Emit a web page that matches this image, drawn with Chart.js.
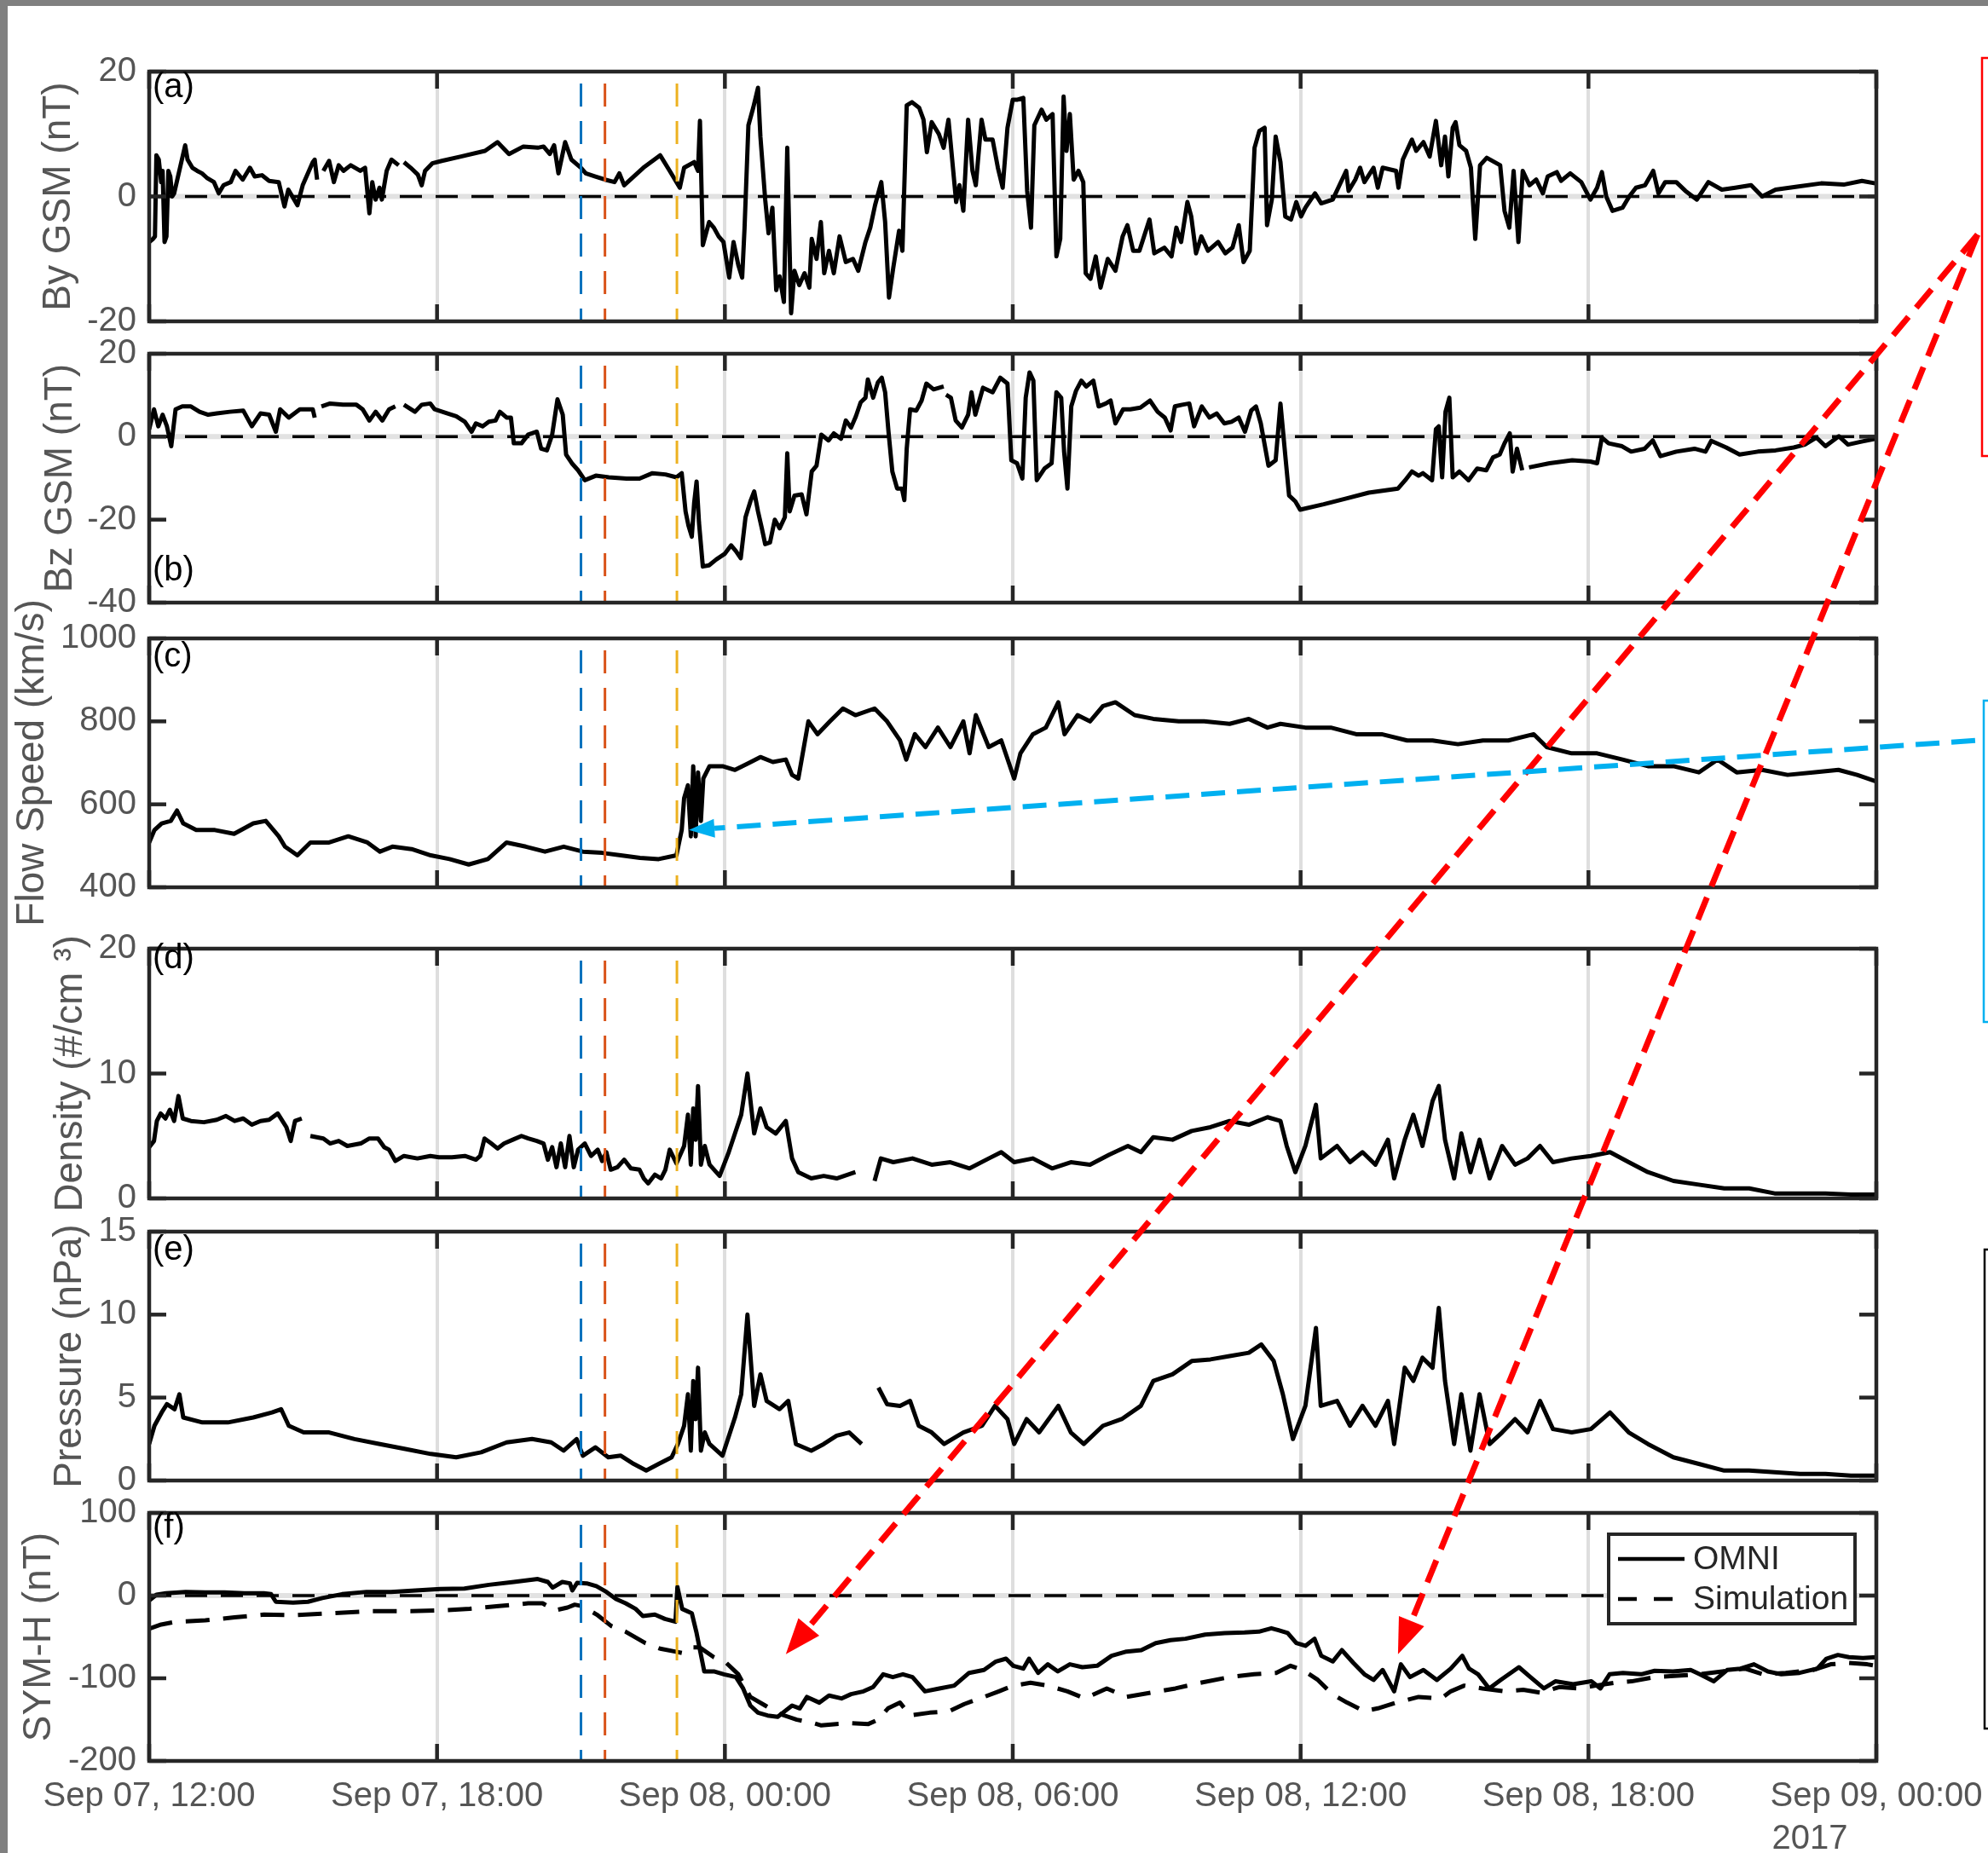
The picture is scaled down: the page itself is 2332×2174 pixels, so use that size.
<!DOCTYPE html>
<html>
<head>
<meta charset="utf-8">
<script src="https://cdn.jsdelivr.net/npm/chart.js@4.4.0/dist/chart.umd.min.js"></script>
<style>
  body { margin: 0; background: #fff; }
  #page { position: relative; width: 2332px; height: 2174px; overflow: hidden; background: #fff; }
  #page canvas { position: absolute; left: 0; }
</style>
</head>
<body>
<div id="page"></div>
<script>
// time axis: hours after Sep 07 12:00 UT
const xTickLabels = ['Sep 07, 12:00', 'Sep 07, 18:00', 'Sep 08, 00:00', 'Sep 08, 06:00',
                     'Sep 08, 12:00', 'Sep 08, 18:00', 'Sep 09, 00:00'];
const yearLabel = '2017';
const eventTimes = [9, 9.5, 11];

// (a) By GSM (nT)
const byTime = [0,0.08,0.12,0.15,0.2,0.25,0.28,0.32,0.36,0.4,0.44,0.48,0.52,0.75,0.8,0.9,1,1.1,1.2,1.35,1.45,1.55,1.7,1.8,1.95,2.1,2.2,2.35,2.5,2.7,2.82,2.9,3.09,3.2,3.41,3.45,3.5,3.52,3.63,3.75,3.85,3.95,4.05,4.2,4.4,4.5,4.59,4.65,4.72,4.8,4.85,4.95,5.05,5.2,5.25,5.31,5.45,5.6,5.68,5.75,5.9,6.1,6.5,7,7.26,7.5,7.8,8.1,8.22,8.35,8.44,8.53,8.67,8.8,9,9.1,9.3,9.5,9.7,9.8,9.9,10.1,10.3,10.65,10.85,11.06,11.15,11.36,11.44,11.48,11.54,11.67,11.77,11.87,11.97,12.09,12.18,12.28,12.36,12.41,12.49,12.59,12.69,12.74,12.84,12.91,12.99,13.07,13.14,13.23,13.3,13.38,13.45,13.55,13.66,13.76,13.81,13.91,14,14.07,14.17,14.27,14.39,14.52,14.67,14.78,14.93,15.03,15.13,15.26,15.34,15.42,15.51,15.63,15.7,15.79,15.9,16.05,16.14,16.21,16.31,16.46,16.56,16.66,16.82,16.89,16.97,17.07,17.16,17.23,17.35,17.43,17.58,17.69,17.79,17.89,18,18.1,18.22,18.3,18.38,18.45,18.6,18.7,18.83,18.91,18.99,19.06,19.12,19.19,19.27,19.37,19.47,19.52,19.62,19.73,19.83,19.98,20.14,20.29,20.39,20.51,20.64,20.85,20.95,21.16,21.31,21.41,21.51,21.64,21.72,21.82,21.93,22.07,22.28,22.43,22.58,22.71,22.81,22.94,23.04,23.14,23.25,23.3,23.4,23.48,23.58,23.68,23.8,23.91,24.01,24.1,24.3,24.43,24.67,24.81,24.95,25,25.14,25.24,25.33,25.52,25.61,25.71,25.99,26.04,26.13,26.32,26.41,26.56,26.69,26.82,26.93,27.01,27.08,27.17,27.23,27.31,27.45,27.55,27.64,27.74,27.88,28.16,28.25,28.35,28.44,28.54,28.63,28.77,28.91,29.05,29.15,29.34,29.43,29.62,29.85,30.04,30.18,30.28,30.37,30.5,30.71,30.85,30.99,31.18,31.35,31.46,31.6,31.83,32.02,32.26,32.5,32.78,33.06,33.39,33.62,33.9,34.38,34.85,35.32,35.7,35.98];
const byGsm = [-7.3,-6.8,-6.4,6.6,5.9,2.3,4.1,-7.3,-6.4,4.1,3.2,0,0.5,8.2,5.9,4.6,4.1,3.7,3,2.3,0.5,1.8,2.3,4.1,2.7,4.6,3.2,3.4,2.5,2.3,-1.6,1.1,-1.4,1.8,5.5,5.9,2.7,null,4.1,5.7,2.3,5,4.1,5,4.1,4.6,-2.7,2.3,-0.5,1.4,-0.5,4.1,5.9,5,null,5.5,4.6,3.5,1.8,4.1,5.3,5.7,6.4,7.3,8.7,6.8,8,7.8,8,6.8,8.2,3.7,8.7,5.9,4.6,3.7,3.2,2.7,2.3,3.7,1.8,3.2,4.6,6.6,4.1,1.4,4.6,5.5,4.1,12.1,-7.8,-4.1,-5,-6.4,-7.3,-13,-7.3,-11,-13,-5,11.4,14.2,17.4,9.6,-0.5,-5.9,-1.8,-15,-12.8,-16.9,7.8,-18.7,-11.9,-14.2,-12.3,-14.6,-6.8,-10,-4.1,-12.3,-8.7,-12.3,-6.4,-10.5,-10,-11.9,-7.3,-5,-1.4,2.3,-4.1,-16.2,-11.4,-5.5,-8.7,14.6,15.1,14.2,12.3,7.1,11.9,10,7.8,12.3,-0.9,1.8,-2.3,12.3,4.1,1.8,12.3,9.1,9.1,4.6,1.4,11,15.5,15.5,15.8,0.9,-5,11.4,13.9,12.3,13.2,-9.6,-6.8,16,7.3,13.2,2.7,4.1,2.3,-12.3,-13.2,-9.6,-14.6,-10,-11.9,-6.4,-4.6,-8.7,-8.7,-3.7,-9.1,-8.2,-9.6,-5,-7.3,-0.9,-3.2,-9.1,-6.4,-8.7,-7.3,-9.1,-8.2,-4.6,-10.5,-8.7,7.8,10.5,11,-4.6,-0.5,9.6,5.5,-3.2,-3.7,-0.9,-3.2,-1.8,0.5,-1.1,-0.5,1.8,4.1,0.9,2.7,4.6,2.3,4.6,1.4,4.6,4.1,1.4,5.9,9.1,7.3,8.7,6.4,12.1,5,9.6,3.2,11,11.9,8.2,7.3,4.6,-6.8,5,6.2,5,-2.3,-5,4.1,-7.3,4.1,1.8,2.7,0.5,3.2,3.9,2.5,3.7,2.3,-0.5,1.4,3.9,0,-2.3,-1.8,0,1.4,1.8,4.1,0.5,2.3,2.3,0.9,-0.5,2.3,1.1,1.4,1.8,0,1.1,1.6,2.1,1.9,2.5,2.1];

// (b) Bz GSM (nT)
const bzTime = [0,0.1,0.19,0.28,0.37,0.46,0.55,0.69,0.87,1.05,1.23,1.41,1.68,1.96,2.14,2.32,2.5,2.64,2.73,2.91,3.14,3.41,3.45,3.52,3.59,3.77,4.04,4.32,4.45,4.59,4.72,4.86,5,5.13,5.22,5.31,5.54,5.68,5.86,5.95,6.22,6.4,6.58,6.72,6.81,6.95,7.08,7.22,7.31,7.45,7.54,7.6,7.76,7.9,8.08,8.17,8.29,8.4,8.51,8.62,8.69,8.81,8.94,9.08,9.31,9.58,9.95,10.22,10.49,10.76,10.99,11.1,11.18,11.24,11.31,11.36,11.41,11.46,11.54,11.67,11.82,12,12.13,12.23,12.33,12.43,12.54,12.61,12.69,12.77,12.84,12.94,13.04,13.14,13.25,13.3,13.35,13.45,13.6,13.7,13.81,13.91,14.01,14.16,14.27,14.42,14.52,14.63,14.73,14.83,14.93,14.98,15.09,15.19,15.27,15.34,15.41,15.49,15.59,15.69,15.74,15.79,15.86,15.99,16.1,16.2,16.35,16.56,16.58,16.61,16.71,16.81,16.94,17.07,17.14,17.22,17.38,17.58,17.74,17.89,17.97,18.09,18.2,18.27,18.35,18.43,18.5,18.66,18.81,18.91,19.01,19.07,19.14,19.22,19.32,19.43,19.53,19.68,19.79,19.94,20.04,20.14,20.3,20.45,20.66,20.86,21.02,21.17,21.29,21.38,21.53,21.68,21.78,21.94,22.1,22.25,22.41,22.56,22.71,22.84,22.97,23.07,23.17,23.33,23.48,23.58,23.69,23.76,23.89,23.99,24.48,24.95,25.42,26.03,26.18,26.32,26.46,26.55,26.74,26.82,26.88,26.95,27.02,27.1,27.17,27.31,27.5,27.68,27.87,28.01,28.15,28.25,28.36,28.42,28.51,28.62,28.69,28.76,29.19,29.66,30.04,30.18,30.28,30.42,30.7,30.89,31.17,31.34,31.5,31.83,32.21,32.44,32.56,32.87,33.15,33.53,33.9,34.28,34.51,34.75,34.94,35.22,35.41,35.69,35.98];
const bzGsm = [1.8,6.6,2.5,5.3,2.5,-2.3,6.6,7.3,7.3,6,5.3,5.6,6,6.3,2.5,5.6,5.3,1.2,6.6,4.6,6.6,6.6,4.6,null,7.3,8,7.7,7.7,6.6,3.9,6,3.9,6.6,7.3,null,7.7,6,7.7,8,6.6,5.6,4.9,3.6,1.2,3.2,2.5,3.6,3.9,6,4.6,4.6,-1.6,-1.6,0.5,1.2,-2.9,-3.3,0.5,9,5.3,-4.3,-6.4,-8.1,-10.5,-9.4,-9.8,-10.1,-10.1,-8.8,-9.1,-9.8,-8.8,-18,-21.4,-24.1,-15.9,-10.8,-20.7,-31.3,-31,-29.6,-28.2,-26.2,-27.6,-29.3,-19.4,-15.3,-13.2,-18,-22.1,-25.9,-25.5,-20,-22.1,-19.4,-4,-18,-14.2,-13.9,-18.7,-8.4,-7,0.5,-0.9,0.8,-0.5,3.9,2.2,4.9,8.3,9.4,13.8,9.4,13.1,14.2,10.7,1.2,-8.4,-12.5,-12.5,-15.3,-2.9,6.6,6.3,8.7,12.8,11.4,12.1,null,10.1,9.4,3.9,2.2,5.3,10.7,5.3,11.8,10.7,14.2,12.8,-5.7,-6.4,-10.1,9.4,15.5,13.5,-10.5,-7.7,-6.4,10.7,9.4,-3.6,-12.5,7.3,11.1,13.5,12.1,13.5,7.3,8,8.7,3.2,6.6,6.6,7,8.7,6,4.6,1.5,7.3,7.7,8,2.5,7.3,4.6,5.6,3.2,3.6,4.6,1.2,6.3,7.3,3.2,-7,-5.7,8,-5.7,-14.2,-15.6,-17.6,-16.3,-14.9,-13.5,-12.5,-10.5,-8.4,-9.4,-8.8,-10.5,1.8,2.5,-9.8,6,9.4,-9.8,-8.4,-10.5,-7.7,-8.1,-5,-4.3,-1.6,0.8,-8.4,-2.9,-8.1,null,-7.4,-6.4,-5.7,-6,-6.4,-0.2,-1.6,-2.3,-3.6,-2.9,-0.9,-4.7,-3.6,-2.9,-3.6,-1,-2.6,-4.3,-3.6,-3.3,-2.6,-1.9,-0.2,-2.3,0.1,-1.9,-1.2,-0.5];

// (c) Flow speed (km/s)
const speedTime = [0,0.11,0.26,0.45,0.58,0.71,0.98,1.37,1.77,2.17,2.43,2.7,2.83,3.09,3.36,3.75,4.15,4.55,4.81,5.07,5.47,5.87,6.26,6.66,7.06,7.45,7.85,8.25,8.64,9.04,9.44,9.83,10.23,10.62,10.99,11.1,11.15,11.23,11.29,11.34,11.39,11.44,11.5,11.55,11.68,11.95,12.21,12.47,12.74,13,13.27,13.4,13.53,13.74,13.93,14.19,14.46,14.72,15.12,15.38,15.65,15.78,15.96,16.18,16.44,16.7,16.97,17.1,17.23,17.5,17.76,18.03,18.16,18.42,18.69,18.95,19.08,19.35,19.61,19.88,20.14,20.54,20.93,21.46,21.99,22.52,22.92,23.31,23.58,24.1,24.63,25.16,25.69,26.22,26.75,27.28,27.8,28.33,28.86,29.13,29.65,30.18,30.71,31.24,31.77,32.3,32.69,33.09,33.62,34.15,34.68,35.21,35.6,36];
const flowSpeed = [508,538,554,560,585,554,538,538,529,554,560,523,498,477,508,508,523,508,486,498,492,477,468,455,468,508,498,486,498,486,483,477,471,468,477,538,615,646,523,692,523,677,560,662,692,692,683,698,714,702,708,671,662,800,769,800,831,815,831,800,754,708,769,738,785,738,800,723,815,738,754,662,723,769,785,846,769,815,800,837,846,815,806,800,800,794,806,785,794,785,785,769,769,754,754,745,754,754,769,738,723,723,708,692,692,677,708,677,683,671,677,683,671,655];

// (d) Density (#/cm^3)
const densTime = [0,0.1,0.16,0.24,0.34,0.43,0.52,0.61,0.7,0.87,1.14,1.41,1.6,1.78,1.96,2.14,2.32,2.5,2.68,2.86,2.95,3.04,3.18,3.27,3.36,3.63,3.77,3.95,4.13,4.41,4.59,4.77,4.9,5,5.13,5.31,5.59,5.86,6.04,6.31,6.58,6.81,6.9,6.99,7.13,7.26,7.4,7.58,7.76,7.9,8.08,8.22,8.31,8.4,8.49,8.58,8.67,8.76,8.85,8.94,9.08,9.21,9.35,9.44,9.53,9.62,9.76,9.9,10.04,10.22,10.31,10.4,10.54,10.67,10.76,10.85,10.99,11.15,11.23,11.29,11.34,11.39,11.44,11.5,11.58,11.68,11.89,12.08,12.21,12.34,12.47,12.61,12.74,12.87,13.06,13.27,13.4,13.53,13.8,14.06,14.33,14.72,14.9,15.12,15.25,15.51,15.91,16.31,16.7,17.1,17.5,17.76,18.03,18.42,18.82,19.21,19.61,20.01,20.4,20.67,20.93,21.33,21.73,22.12,22.52,22.92,23.31,23.58,23.71,23.89,24.1,24.32,24.42,24.76,25.03,25.29,25.56,25.82,25.95,26.17,26.35,26.54,26.75,26.88,27.01,27.2,27.35,27.54,27.73,27.94,28.2,28.47,28.73,28.99,29.26,29.65,30.05,30.45,30.84,31.24,31.77,32.3,32.83,33.35,33.88,34.41,34.94,35.47,36];
const density = [4.1,4.6,6.2,6.8,6.4,7.1,6.2,8.2,6.4,6.2,6.1,6.3,6.6,6.2,6.4,5.9,6.2,6.3,6.8,5.7,4.6,6.2,6.4,null,5,4.8,4.4,4.6,4.2,4.4,4.8,4.8,4.1,3.9,3,3.4,3.2,3.4,3.3,3.3,3.4,3.1,3.4,4.8,4.4,4,4.4,4.7,5,4.8,4.6,4.4,3.1,4.1,2.5,4.4,2.5,5,2.5,3.9,4.4,3.4,3.9,3,3.7,2.3,2.5,3.1,2.4,2.3,1.6,1.2,1.9,1.6,2.3,3.9,2.8,4.2,6.7,2.7,7.2,4.7,9,2.7,4.2,2.7,1.8,3.7,5.2,6.7,10,5.2,7.2,5.7,5.2,6.2,3.2,2.1,1.6,1.8,1.6,2.1,null,1.4,3.2,2.9,3.2,2.7,2.9,2.4,3.2,3.7,2.9,3.2,2.4,2.9,2.7,3.5,4.2,3.7,4.9,4.7,5.4,5.7,6.2,5.9,6.5,6.2,4.2,2.1,4.2,7.5,3.2,4.2,2.9,3.7,2.7,4.7,1.6,4.7,6.7,4.2,7.8,9,4.7,1.6,5.2,2.1,4.7,1.6,4.2,2.7,3.2,4.2,2.9,3.2,3.4,3.7,2.9,2.1,1.4,1.1,0.8,0.8,0.4,0.4,0.4,0.3,0.3];

// (e) Pressure (nPa)
const presTime = [0,0.11,0.26,0.37,0.53,0.63,0.71,1.11,1.64,2.17,2.56,2.75,2.91,3.22,3.75,4.28,4.81,5.34,5.87,6.4,6.92,7.45,7.98,8.38,8.64,8.91,9.04,9.3,9.57,9.83,10.1,10.36,10.62,10.89,11.02,11.15,11.23,11.29,11.34,11.39,11.44,11.5,11.58,11.68,11.95,12.21,12.34,12.47,12.61,12.74,12.87,13.14,13.32,13.48,13.8,14.06,14.33,14.59,14.85,14.95,15.2,15.38,15.65,15.86,16.04,16.31,16.57,16.97,17.36,17.63,17.89,18.03,18.29,18.55,18.95,19.21,19.48,19.88,20.27,20.67,20.93,21.33,21.73,22.12,22.52,22.92,23.18,23.44,23.63,23.84,24.1,24.32,24.42,24.76,25.03,25.29,25.56,25.82,25.95,26.17,26.35,26.54,26.75,26.88,27.01,27.2,27.35,27.54,27.73,27.94,28.2,28.47,28.73,28.99,29.26,29.65,30.05,30.45,30.84,31.24,31.77,32.3,32.83,33.35,33.88,34.41,34.94,35.47,36];
const pressure = [2.2,3.3,4.1,4.6,4.3,5.2,3.8,3.5,3.5,3.8,4.1,4.3,3.3,2.9,2.9,2.5,2.2,1.9,1.6,1.4,1.7,2.3,2.5,2.3,1.8,2.5,1.5,2,1.4,1.5,1,0.6,1,1.4,2.2,3.3,5.2,1.8,6,3.7,6.8,1.8,2.9,2.2,1.5,3.8,5.2,10,4.5,6.4,4.8,4.3,4.8,2.2,1.8,2.2,2.7,2.9,2.2,null,5.6,4.6,4.5,4.8,3.3,2.9,2.2,2.9,3.3,4.5,3.7,2.2,3.7,2.9,4.5,2.9,2.2,3.3,3.7,4.5,6,6.4,7.2,7.3,7.5,7.7,8.2,7.2,5.2,2.5,4.5,9.2,4.5,4.8,3.3,4.5,3.3,4.8,2.2,6.8,6,7.4,6.8,10.4,6,2.2,5.2,1.8,5.2,2.2,2.9,3.7,2.9,4.8,3.1,2.9,3.1,4.1,2.9,2.2,1.4,1,0.6,0.6,0.5,0.4,0.4,0.3,0.3];

// (f) SYM-H (nT): OMNI and simulation
const symTime = [0,0.15,0.35,0.76,1.17,1.57,1.98,2.39,2.54,2.64,3,3.31,3.61,4.02,4.53,5.04,5.55,6.07,6.57,7.08,7.6,8.1,8.31,8.41,8.61,8.77,8.82,8.92,9.12,9.32,9.53,9.73,9.93,10.14,10.29,10.54,10.75,10.97,11.01,11.11,11.31,11.41,11.57,11.77,11.98,12.23,12.38,12.53,12.69,12.89,13.1,13.25,13.4,13.56,13.71,13.97,14.17,14.43,14.63,14.89,15.09,15.3,15.5,15.71,15.91,16.17,16.47,16.78,17.09,17.4,17.65,17.86,18.01,18.22,18.34,18.53,18.73,18.94,19.19,19.45,19.76,20.06,20.37,20.68,20.98,21.29,21.6,22.01,22.42,22.83,23.13,23.39,23.54,23.73,23.91,24.1,24.29,24.43,24.67,24.86,25.1,25.33,25.52,25.71,25.95,26.09,26.28,26.56,26.84,27.13,27.37,27.51,27.7,27.93,28.17,28.55,28.79,29.07,29.31,29.68,30.06,30.25,30.44,30.72,31.1,31.38,31.76,32.13,32.32,32.61,32.89,33.17,33.45,33.74,34.02,34.4,34.77,34.96,35.2,35.43,35.72,36];
const symhOmni = [-6,1,2.8,4.5,3.8,3.8,2.8,2.8,1.7,-7.5,-8.6,-7.5,-3,1.7,4.5,4.5,6.2,7.9,8.6,13,16.5,20,16.5,9.6,16.5,14.8,6.2,15.5,14.8,11.4,4.5,-4.1,-9.3,-16.1,-24.7,-23,-28.2,-31.6,10.5,-16.1,-21.3,-45.3,-91.7,-91.7,-95.2,-98.6,-112.3,-133,-141.6,-145,-146.7,-139.8,-133,-136.4,-122.6,-129.5,-120.9,-124.4,-119.2,-115.8,-110.6,-95.2,-98.6,-95.2,-98.6,-115.8,-112.3,-108.9,-93.5,-90,-79.7,-76.3,-84.9,-88.3,-76.3,-93.5,-83.1,-91.7,-83.1,-86.6,-84.9,-72.8,-67.7,-66,-57.4,-53.9,-52.2,-47.1,-45.3,-44.7,-43.6,-39.5,-41.9,-45.3,-57.4,-60.8,-52.2,-72.8,-79.7,-66,-81.4,-95.2,-102,-90,-115.8,-83.1,-98.6,-90,-102,-88.3,-72.8,-88.3,-95.2,-112.3,-102,-86.6,-98.6,-112.3,-103.7,-107.2,-103.7,-112.3,-95.2,-93.5,-95.2,-91,-91.7,-90,-95.2,-103.7,-90,-88.3,-83.1,-91.7,-95.2,-93.5,-88.3,-76.3,-71.8,-74.5,-75.6,-74.5];
const simTime = [0,0.25,0.56,1.17,1.78,2.39,3,3.82,4.64,5.45,6.07,6.68,7.29,7.9,8.2,8.46,8.72,8.87,9.02,9.33,9.63,9.93,10.34,10.65,10.96,11.11,11.26,11.47,11.77,12.03,12.28,12.53,12.84,13.15,13.5,13.81,14.01,14.32,14.63,14.99,15.19,15.4,15.65,15.86,16.27,16.68,16.99,17.4,17.71,18.01,18.37,18.73,19.14,19.5,19.96,20.37,20.88,21.39,21.9,22.52,23.03,23.49,23.79,24.05,24.36,24.66,24.97,25.33,25.61,25.99,26.46,26.93,27.13,27.41,27.79,28.26,28.64,29.01,29.39,29.77,30.15,30.53,30.9,31.38,31.85,32.32,32.79,33.26,33.64,34.11,34.68,35.05,35.43,35.81,36];
const symhSim = [-40,-35,-31.6,-30,-26.4,-23,-23.7,-21.3,-18.9,-18.9,-17.9,-16,-12.7,-9.3,-9.3,-17.9,-14.4,-11,-12.7,-23,-36.7,-43.6,-57.4,-64.2,-67.7,-69.4,-62.5,-62.5,-74.5,-81.4,-95.2,-122.6,-133,-143.3,-150.1,-153.6,-157,-155.3,-154.3,-155.3,-150.1,-136.4,-129.5,-145,-141.6,-139.8,-131.2,-122.6,-115.8,-108.9,-105.5,-108.9,-115.8,-124.4,-112.3,-122.6,-117.5,-112.3,-105.5,-98.6,-95.2,-93.5,-84.9,-90,-102,-119.2,-129.5,-139.8,-136.4,-129.5,-122.6,-124.4,-115.8,-108.9,-112.3,-115.8,-114,-117.5,-110.6,-112.3,-108.9,-105.5,-103.7,-98.6,-96.9,-95.2,-91.7,-88.3,-95.2,-93.5,-90,-83.1,-81.4,-83.1,-84.9];

// ---------------------------------------------------------------------------

const W = 2332, H = 2174;
const PLOT_L = 175, PLOT_R = 2201, MARGIN = 70;
const FONT = 'Helvetica, Arial, "Liberation Sans", sans-serif';
const GREY_TXT = '#555555';
const AXIS = '#262626';
const eventColors = ['#0072BD', '#D95319', '#EDB120'];

const pts = (t, v) => t.map((x, i) => ({x: x, y: v[i]}));

const panels = [
  {top: 84, bottom: 377, min: -20, max: 20, step: 20, title: 'By GSM (nT)', titleX: 69,
   tag: '(a)', tagY: -1, zero: true, series: [pts(byTime, byGsm)]},
  {top: 415, bottom: 707, min: -40, max: 20, step: 20, title: 'Bz GSM (nT)', titleX: 71,
   tag: '(b)', tagBottom: 17, zero: true, series: [pts(bzTime, bzGsm)]},
  {top: 749, bottom: 1041, min: 400, max: 1000, step: 200, title: 'Flow Speed (km/s)', titleX: 38,
   tag: '(c)', tagY: 2, series: [pts(speedTime, flowSpeed)]},
  {top: 1113, bottom: 1406, min: 0, max: 20, step: 10, title: 'Density (#/cm \u00B3)', titleX: 83,
   tag: '(d)', tagY: -8, series: [pts(densTime, density)]},
  {top: 1445, bottom: 1737, min: 0, max: 15, step: 5, title: 'Pressure (nPa)', titleX: 82,
   tag: '(e)', tagY: 2, series: [pts(presTime, pressure)]},
  {top: 1775, bottom: 2066, min: -200, max: 100, step: 100, title: 'SYM-H (nT)', titleX: 46,
   tag: '(f)', tagY: -2, zero: true, legend: true,
   series: [pts(symTime, symhOmni), pts(simTime, symhSim)]}
];

function seg(ctx, x1, y1, x2, y2) {
  ctx.beginPath(); ctx.moveTo(x1, y1); ctx.lineTo(x2, y2); ctx.stroke();
}

function panelPlugin(p, last) {
  return {
    id: 'panelDeco',
    beforeDatasetsDraw(chart) {
      if (!p.zero) return;
      const {ctx, chartArea: a, scales: {y}} = chart;
      const y0 = y.getPixelForValue(0);
      ctx.save();
      ctx.strokeStyle = '#e2e2e2'; ctx.lineWidth = 6;
      seg(ctx, a.left, y0, a.right, y0);
      ctx.strokeStyle = '#000'; ctx.lineWidth = 3.5; ctx.setLineDash([26, 16]);
      seg(ctx, a.left, y0, a.right, y0);
      ctx.restore();
    },
    afterDatasetsDraw(chart) {
      const {ctx, chartArea: a, scales: {x, y}} = chart;
      ctx.save();
      // event markers
      ctx.lineWidth = 3; ctx.setLineDash([27, 17]);
      eventTimes.forEach((t, i) => {
        ctx.strokeStyle = eventColors[i];
        const px = x.getPixelForValue(t);
        seg(ctx, px, a.top + 14, px, a.bottom);
      });
      ctx.setLineDash([]);
      // box and inward ticks
      ctx.strokeStyle = AXIS; ctx.lineWidth = 4.5;
      ctx.strokeRect(a.left, a.top, a.right - a.left, a.bottom - a.top);
      x.ticks.forEach(tk => {
        const px = x.getPixelForValue(tk.value);
        seg(ctx, px, a.top, px, a.top + 20);
        seg(ctx, px, a.bottom, px, a.bottom - 20);
      });
      y.ticks.forEach(tk => {
        const py = y.getPixelForValue(tk.value);
        seg(ctx, a.left, py, a.left + 20, py);
        seg(ctx, a.right, py, a.right - 20, py);
      });
      // panel tag
      ctx.fillStyle = '#000'; ctx.font = '40px ' + FONT; ctx.textAlign = 'left';
      if (p.tagBottom) {
        ctx.textBaseline = 'bottom';
        ctx.fillText(p.tag, a.left + 4, a.bottom - p.tagBottom);
      } else {
        ctx.textBaseline = 'top';
        ctx.fillText(p.tag, a.left + 4, a.top + p.tagY);
      }
      // legend
      if (p.legend) {
        const bw = 289, bh = 105, bx = a.right - 25 - bw, by = a.top + 25;
        ctx.fillStyle = '#fff'; ctx.fillRect(bx, by, bw, bh);
        ctx.strokeStyle = AXIS; ctx.lineWidth = 4; ctx.strokeRect(bx, by, bw, bh);
        ctx.strokeStyle = '#000'; ctx.lineWidth = 4.5;
        seg(ctx, bx + 11, by + 29, bx + 89, by + 29);
        ctx.setLineDash([22, 20]);
        seg(ctx, bx + 11, by + 76, bx + 89, by + 76);
        ctx.setLineDash([]);
        ctx.fillStyle = AXIS; ctx.font = '39px ' + FONT; ctx.textBaseline = 'middle';
        ctx.fillText('OMNI', bx + 99, by + 30);
        ctx.fillText('Simulation', bx + 99, by + 77);
      }
      ctx.restore();
    },
    afterDraw(chart) {
      const {ctx, chartArea: a, scales: {x}} = chart;
      ctx.save();
      ctx.fillStyle = GREY_TXT; ctx.font = '46px ' + FONT;
      ctx.textAlign = 'center'; ctx.textBaseline = 'middle';
      ctx.translate(p.titleX, (a.top + a.bottom) / 2);
      ctx.rotate(-Math.PI / 2);
      ctx.fillText(p.title, 0, 0);
      ctx.restore();
      if (last) {
        ctx.save();
        ctx.font = '40px ' + FONT;
        const lw = ctx.measureText(xTickLabels[xTickLabels.length - 1]).width;
        ctx.fillStyle = GREY_TXT; ctx.textAlign = 'left'; ctx.textBaseline = 'middle';
        ctx.fillText(yearLabel, x.getPixelForValue(36) - lw / 2 + 2, a.bottom + 92);
        ctx.restore();
      }
    }
  };
}

const page = document.getElementById('page');
const charts = [];

panels.forEach((p, i) => {
  const last = i === panels.length - 1;
  const below = last ? H - p.bottom : MARGIN;
  const cv = document.createElement('canvas');
  const ch = (p.bottom - p.top) + MARGIN + below;
  cv.width = W; cv.height = ch;
  cv.style.width = W + 'px'; cv.style.height = ch + 'px';
  cv.style.top = (p.top - MARGIN) + 'px';
  page.appendChild(cv);

  const datasets = p.series.map((s, k) => ({
    data: s,
    borderColor: '#000',
    borderWidth: 5,
    borderDash: k === 1 ? [28, 16] : [],
    pointRadius: 0,
    tension: 0,
    spanGaps: false,
    borderJoinStyle: 'round'
  }));

  new Chart(cv, {
    type: 'line',
    data: {datasets},
    options: {
      responsive: false,
      animation: false,
      devicePixelRatio: 1,
      layout: {padding: {left: 0, right: W - PLOT_R, top: MARGIN, bottom: 0}},
      plugins: {legend: {display: false}, tooltip: {enabled: false}},
      scales: {
        x: {
          type: 'linear', min: 0, max: 36,
          border: {display: false},
          grid: {color: '#dedede', lineWidth: 4, drawTicks: false},
          ticks: {
            display: last, stepSize: 6, autoSkip: false, maxRotation: 0, minRotation: 0,
            padding: 18, color: GREY_TXT, font: {size: 40, family: FONT},
            callback: v => xTickLabels[Math.round(v / 6)]
          },
          afterFit: s => { s.height = below; s.paddingLeft = 0; s.paddingRight = 0; }
        },
        y: {
          min: p.min, max: p.max,
          border: {display: false},
          grid: {display: false, drawTicks: false},
          ticks: {stepSize: p.step, padding: 15, color: GREY_TXT, font: {size: 40, family: FONT},
                  callback: v => String(v)},
          afterFit: s => { s.width = PLOT_L; }
        }
      }
    },
    plugins: [panelPlugin(p, last)]
  });
  charts.push({chart: Chart.getChart(cv), offset: p.top - MARGIN});
});

// annotation overlay (arrows pointing into the panels, cropped side boxes, frame)
const ov = document.createElement('canvas');
ov.width = W; ov.height = H;
ov.style.width = W + 'px'; ov.style.height = H + 'px'; ov.style.top = '0px';
page.appendChild(ov);
const octx = ov.getContext('2d');

function toPage(panel, hx, vy) {
  const c = charts[panel];
  return [c.chart.scales.x.getPixelForValue(hx), c.chart.scales.y.getPixelForValue(vy) + c.offset];
}

function drawArrow(ctx, from, to, color, lw, dash, headL, headW) {
  const [x1, y1] = from, [x2, y2] = to;
  const ang = Math.atan2(y2 - y1, x2 - x1);
  const bx = x2 - headL * Math.cos(ang), by = y2 - headL * Math.sin(ang);
  ctx.save();
  ctx.strokeStyle = color; ctx.lineWidth = lw; ctx.setLineDash(dash);
  seg(ctx, x1, y1, bx, by);
  ctx.setLineDash([]);
  ctx.fillStyle = color;
  ctx.beginPath();
  ctx.moveTo(x2, y2);
  ctx.lineTo(bx + headW * Math.sin(ang), by - headW * Math.cos(ang));
  ctx.lineTo(bx - headW * Math.sin(ang), by + headW * Math.cos(ang));
  ctx.closePath(); ctx.fill();
  ctx.restore();
}

// side boxes (cut off at the right edge)
octx.lineWidth = 2.5;
octx.strokeStyle = '#ff0000'; octx.strokeRect(2325, 68, 200, 467);
octx.strokeStyle = '#00b0f0'; octx.strokeRect(2327, 822, 200, 377);
octx.strokeStyle = '#000000'; octx.strokeRect(2328, 1466, 200, 562);

const redStart = toPage(0, 38.11, -6.1);
drawArrow(octx, redStart, toPage(5, 13.27, -71), '#ff0000', 7, [28, 14], 42, 16);
drawArrow(octx, redStart, toPage(5, 26.03, -71), '#ff0000', 7, [28, 14], 42, 16);
drawArrow(octx, toPage(2, 38.06, 754), toPage(2, 11.25, 538), '#00b0f0', 6, [28, 14], 30, 11);

// frame
octx.fillStyle = '#808080';
octx.fillRect(0, 0, W, 7);
octx.fillRect(0, 0, 9, H);
</script>
</body>
</html>
